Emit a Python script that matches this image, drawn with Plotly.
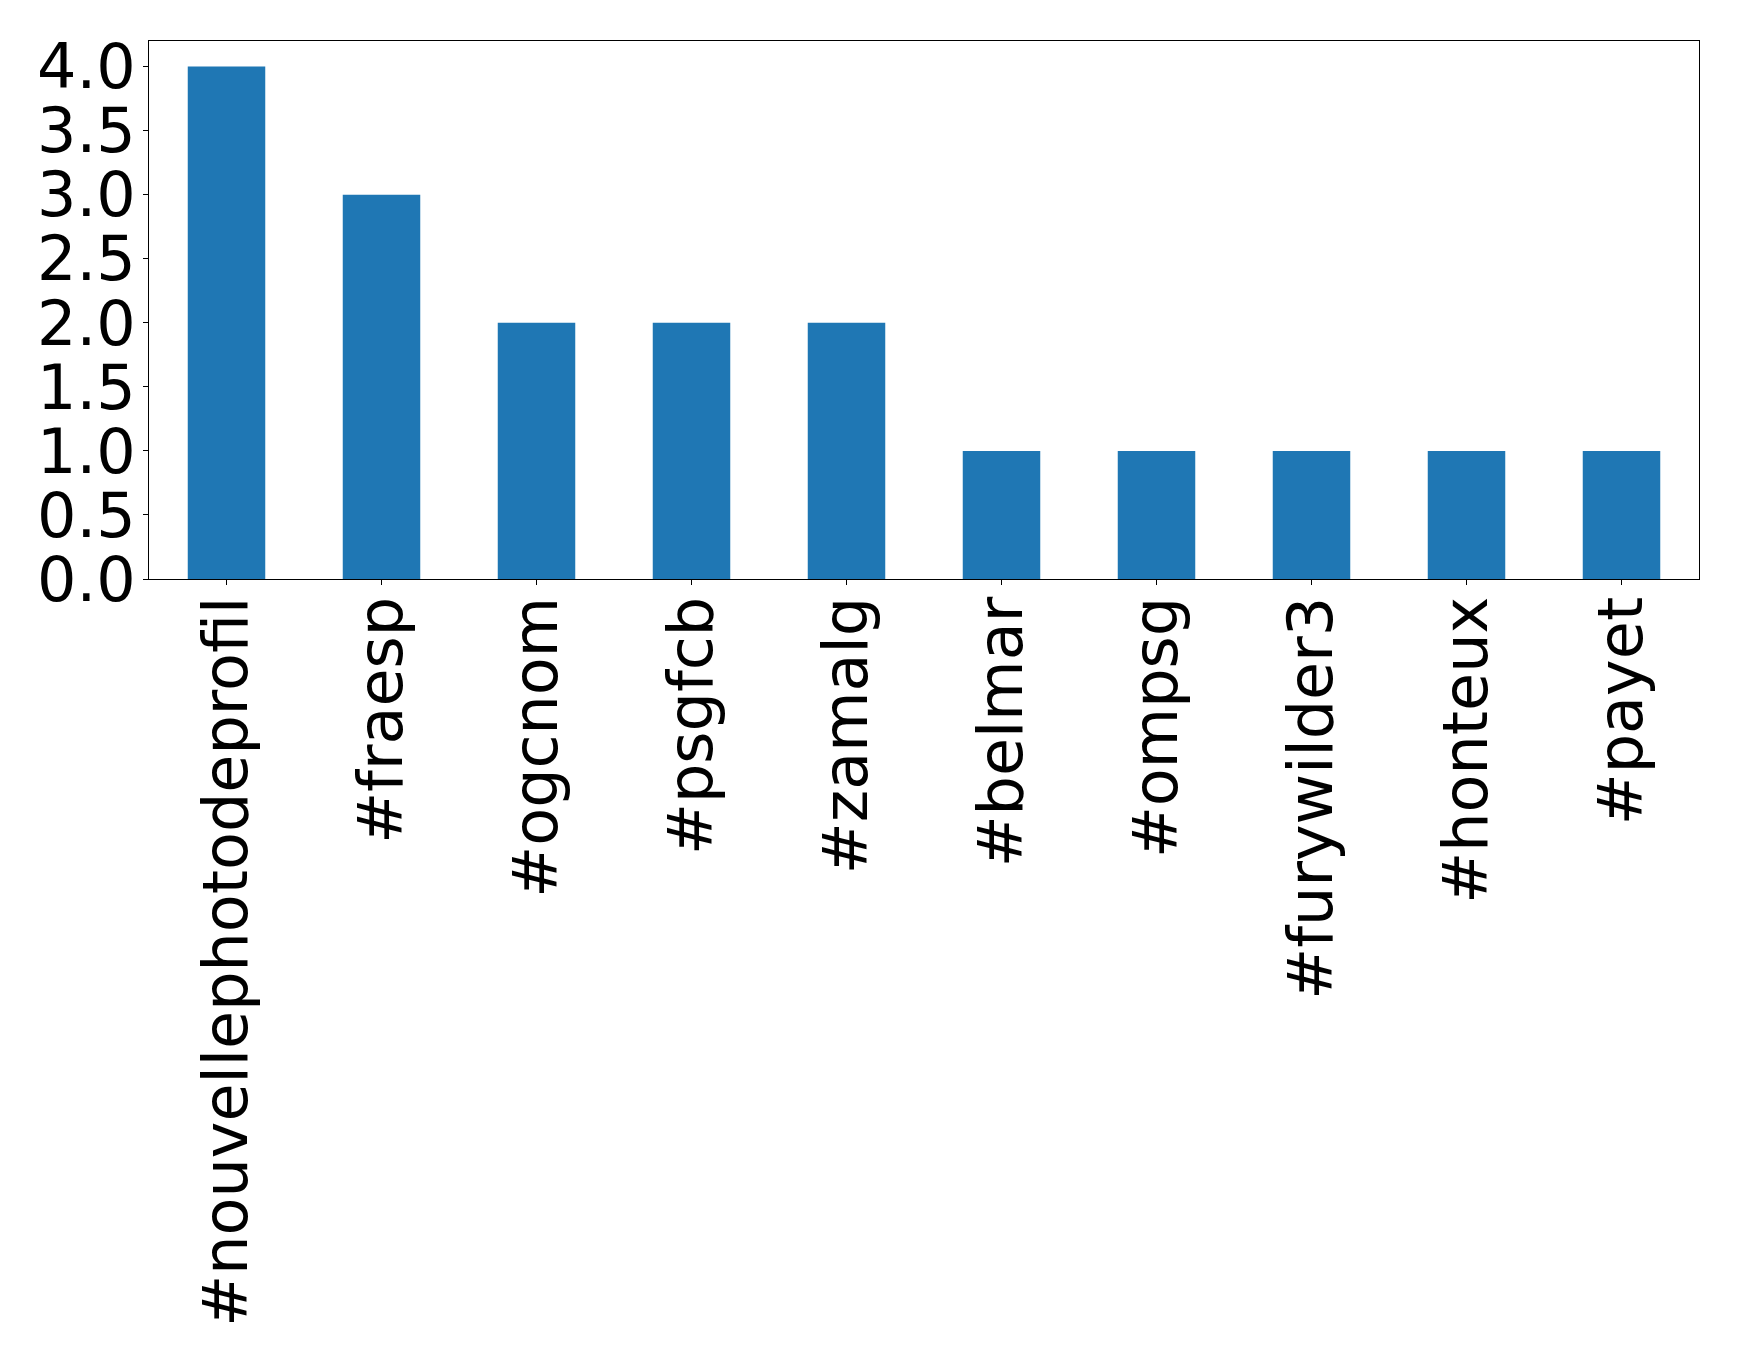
import plotly.graph_objects as go

categories = ["#nouvellephotodeprofil", "#fraesp", "#ogcnom", "#psgfcb", "#zamalg",
              "#belmar", "#ompsg", "#furywilder3", "#honteux", "#payet"]
counts = [4, 3, 2, 2, 2, 1, 1, 1, 1, 1]
y_ticks = [0.0, 0.5, 1.0, 1.5, 2.0, 2.5, 3.0, 3.5, 4.0]
y_ticklabels = ["0.0", "0.5", "1.0", "1.5", "2.0", "2.5", "3.0", "3.5", "4.0"]

fig = go.Figure(go.Bar(x=list(range(len(categories))), y=counts, width=0.5,
                       marker=dict(color="#1f77b4", line=dict(width=0))))

font = dict(family="DejaVu Sans", size=62, color="black")
fig.update_layout(
    width=1731, height=1356,
    margin=dict(l=141, r=40, t=33, b=785, autoexpand=False),
    plot_bgcolor="white", paper_bgcolor="white",
    showlegend=False,
    font=font,
)
fig.update_xaxes(
    range=[-0.5, len(categories) - 0.5],
    tickmode="array", tickvals=list(range(len(categories))), ticktext=categories,
    tickangle=-90, ticks="outside", ticklen=5, tickwidth=1, tickcolor="black",
    showline=True, mirror=True, linecolor="black", linewidth=1,
    showgrid=False, zeroline=False, tickfont=font, ticklabelstandoff=-13,
)
fig.update_yaxes(
    range=[0, 4.2],
    tickmode="array", tickvals=y_ticks, ticktext=y_ticklabels,
    ticks="outside", ticklen=5, tickwidth=1, tickcolor="black",
    showline=True, mirror=True, linecolor="black", linewidth=1,
    showgrid=False, zeroline=False, tickfont=font, ticklabelstandoff=-5,
)
fig.write_html("out.html")
